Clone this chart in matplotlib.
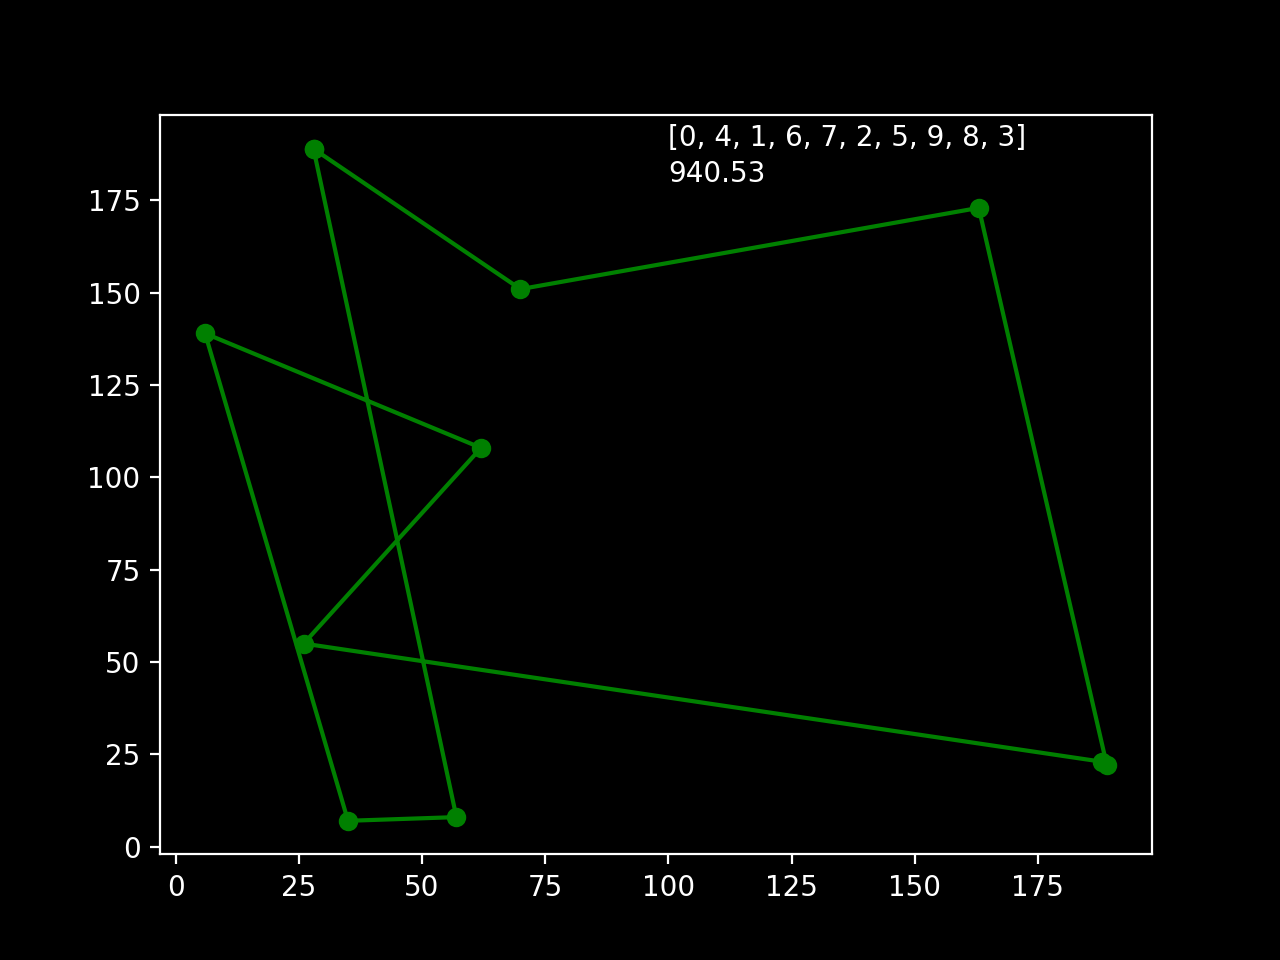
import matplotlib
matplotlib.use("Agg")
import matplotlib.pyplot as plt

# coordenadas de las ciudades
xs = [28, 163, 26, 57, 70, 62, 189, 188, 35, 6]
ys = [189, 173, 55, 8, 151, 108, 22, 23, 7, 139]

ruta = [0, 4, 1, 6, 7, 2, 5, 9, 8, 3]
distancia = 940.53

plt.style.use('dark_background')
fig = plt.figure(figsize=(6.4, 4.8), dpi=200)

camino = ruta + [ruta[0]]  # cerrar el recorrido
px = [xs[i] for i in camino]
py = [ys[i] for i in camino]
plt.plot(px, py, 'go-')

plt.text(100, 180, str(ruta) + "\n" + str(distancia), linespacing=1.38)

fig.savefig("out.png")
